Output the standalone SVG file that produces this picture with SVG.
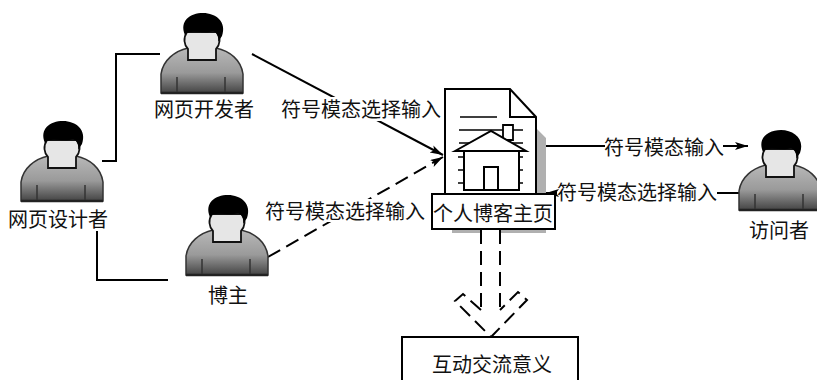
<svg xmlns="http://www.w3.org/2000/svg" width="817" height="380" viewBox="0 0 817 380">
<style>
text{font-family:"Noto Sans CJK SC","Noto Sans CJK JP",sans-serif;font-size:20px;fill:#111;text-anchor:middle;dominant-baseline:central}
.l{fill:none;stroke:#000;stroke-width:2}
.d{fill:none;stroke:#000;stroke-width:2;stroke-dasharray:14 7}
.t{fill:none;stroke:#000;stroke-width:1.6}
.b{fill:#fff}
</style>
<defs>
<linearGradient id="g" x1="0" y1="0" x2="0" y2="1"><stop offset="0" stop-color="#b8b8b8"/><stop offset=".55" stop-color="#9a9a9a"/><stop offset="1" stop-color="#444"/></linearGradient>
<marker id="a" markerWidth="14" markerHeight="10" refX="13" refY="4" orient="auto" markerUnits="userSpaceOnUse"><path d="M0 0L13 4L0 8L3 4Z" fill="#000"/></marker>
<g id="p">
<path d="M161 93V74C163 60 175 51 188 48H216C230 51 241 60 243 74V93Z" fill="url(#g)" stroke="#333" stroke-width="1.5"/>
<path d="M161 93H243" stroke="#222" stroke-width="2.4"/>
<path d="M177 77V92M225 77V92" stroke="#333" stroke-width="1.5"/>
<path d="M188 60V49C184 45 183 38 187 32H217C221 38 220 45 216 49V60Z" fill="#e6e6e6" stroke="#111" stroke-width="1.8"/>
<path d="M185 35C179 21 190 13 203 13C216 13 227 22 222 36L218 42C219 37 217 33 213 31C205 34 195 30 187 33Z" fill="#000"/>
</g>
</defs>
<g id="connectors">
<path class="l" d="M102 161H116V54H160"/>
<path class="l" d="M97 231V280H168"/>
<path class="l" d="M252 54L443 155" marker-end="url(#a)"/>
<path class="d" d="M268 257L443 157" marker-end="url(#a)"/>
<path class="l" d="M545 146H605"/>
<path class="l" d="M723 146H748" marker-end="url(#a)"/>
<path class="l" d="M739 193H717"/>
<path class="l" d="M557 193H546" marker-end="url(#a)"/>
</g>
<g id="page">
<path d="M536 128L546 138V233H452V229H536Z" fill="#b0b0b0"/>
<rect x="482" y="229" width="18" height="6" fill="#fff"/>
<path d="M445 89H510L536 117V194H445Z" fill="#fff" stroke="#000" stroke-width="2"/>
<path class="l" d="M510 89V117H536"/>
<path class="t" d="M460 117H497M459 130H523M459 143H523M458 157H464M458 170H464M458 183H464M519 157H523M519 170H523M519 183H523"/>
<path d="M503 140V125H513V140Z" fill="#fff" stroke="#000" stroke-width="1.8"/>
<path d="M455 151L491 131L526 151Z" fill="#fff" stroke="#000" stroke-width="2"/>
<rect x="464" y="151" width="55" height="39" fill="#fff" stroke="#000" stroke-width="2"/>
<rect x="484" y="167" width="14" height="23" fill="#fff" stroke="#000" stroke-width="2"/>
</g>
<g id="blog"><rect x="432" y="194" width="123" height="35" fill="#fff" stroke="#000" stroke-width="2"/><text x="493" y="212">个人博客主页</text></g>
<g id="flow">
<path class="d" d="M481 230V310"/>
<path class="d" d="M500 230V310"/>
<path class="d" stroke-dasharray="12 6" d="M481 310L463 294L455 301L491 337L527 300L518 292L500 310"/>
</g>
<g id="developer"><use href="#p"/><text x="204" y="108">网页开发者</text></g>
<g id="designer"><use href="#p" x="-140" y="108"/><text x="58" y="218">网页设计者</text></g>
<g id="blogger"><use href="#p" x="25" y="182"/><text x="228" y="294">博主</text></g>
<g id="visitor"><use href="#p" x="578" y="117"/><text x="779" y="229">访问者</text></g>
<g id="meaning"><rect x="402" y="337" width="176" height="60" fill="#fff" stroke="#000" stroke-width="2"/><text x="492" y="363">互动交流意义</text></g>
<g id="labels">
<rect class="b" x="281" y="97" width="160" height="24"/><text x="361" y="108">符号模态选择输入</text>
<rect class="b" x="265" y="199" width="160" height="23"/><text x="345" y="210">符号模态选择输入</text>
<text x="664" y="146">符号模态输入</text>
<text x="637" y="191">符号模态选择输入</text>
</g>
</svg>
